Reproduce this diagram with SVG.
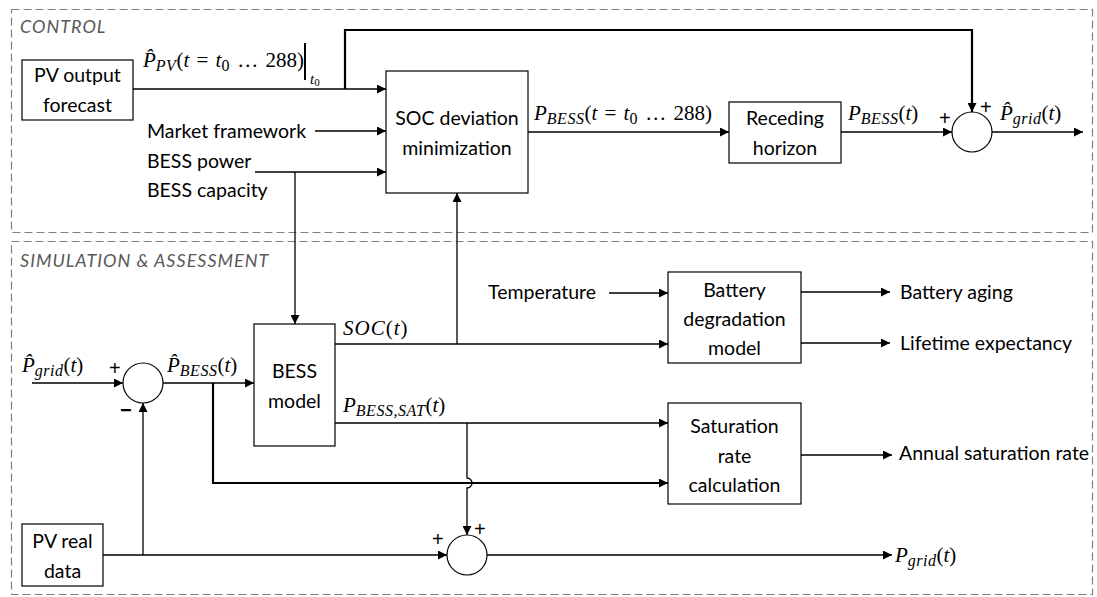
<svg xmlns="http://www.w3.org/2000/svg" width="1097" height="597" viewBox="0 0 1097 597">
<defs>
<marker id="ah" viewBox="0 0 10 10" refX="10" refY="5" markerWidth="10" markerHeight="9" markerUnits="userSpaceOnUse" orient="auto">
<path d="M0,0 L10,5 L0,10 z" fill="#000"/>
</marker>
<style>
.frame{fill:none;stroke:#808080;stroke-width:1.2;stroke-dasharray:8 4}
.ftitle{font-family:Lato,"Liberation Sans",sans-serif;font-size:18px;letter-spacing:1px;font-style:italic;fill:#595959}
.box{fill:#fff;stroke:#000;stroke-width:1.2}
.sum{fill:#fff;stroke:#000;stroke-width:1.2}
.t{font-family:Lato,"Liberation Sans",sans-serif;font-size:19.5px;fill:#000}
.c{text-anchor:middle}
.m{font-family:"Liberation Serif","DejaVu Serif",serif;font-size:21px;word-spacing:2px;fill:#000}
.i{font-style:italic}
.s{font-size:16px;letter-spacing:0.5px}
.sign{font-family:"Liberation Sans",sans-serif;font-size:20px;fill:#000}
.w{fill:none;stroke:#000;stroke-width:1.3}
.wt{fill:none;stroke:#000;stroke-width:2.2}
.a{marker-end:url(#ah)}
</style>
</defs>
<rect width="1097" height="597" fill="#fff"/>

<g id="frames">
<rect class="frame" x="11.5" y="9.5" width="1081" height="223"/>
<text class="ftitle" x="20" y="33">CONTROL</text>
<rect class="frame" x="11.5" y="241.5" width="1081" height="353"/>
<text class="ftitle" x="20" y="267">SIMULATION &amp; ASSESSMENT</text>
</g>

<g id="connectors">
<path class="w a" d="M133,89 H386"/>
<path class="wt a" d="M345,89 V30 H972 V112"/>
<path class="w a" d="M315,131 H386"/>
<path class="w a" d="M255,172 H386"/>
<path class="w a" d="M295,172 V324"/>
<path class="w a" d="M528,132 H729"/>
<path class="w a" d="M841,132 H952"/>
<path class="w a" d="M992,132 H1083"/>
<path class="w a" d="M32,383 H123"/>
<path class="w a" d="M163,383 H254"/>
<path class="wt a" d="M213,383 V483 H668"/>
<path class="w a" d="M335,344 H668"/>
<path class="w a" d="M457,344 V193"/>
<path class="w a" d="M609,293 H668"/>
<path class="w a" d="M801,292 H890"/>
<path class="w a" d="M801,343 H890"/>
<path class="w a" d="M335,423 H668"/>
<path class="w a" d="M467,423 V478 a5,5 0 0 1 0,10 V535"/>
<path class="w a" d="M801,455 H892"/>
<path class="w a" d="M103,555 H447"/>
<path class="w a" d="M143,555 V403"/>
<path class="w a" d="M487,555 H892"/>
</g>

<g id="pv-forecast">
<rect class="box" x="22" y="60" width="111" height="60"/>
<text class="t c" x="77.5" y="82">PV output</text>
<text class="t c" x="77.5" y="112">forecast</text>
</g>

<g id="forecast-label">
<text class="m" x="143" y="67"><tspan class="i">P&#x302;</tspan><tspan class="i s" dy="4">PV</tspan><tspan dy="-4">(</tspan><tspan class="i">t</tspan> = <tspan class="i">t</tspan><tspan class="s" dy="4">0</tspan><tspan dy="-4"> … 288)</tspan></text>
<line x1="305" y1="43" x2="305" y2="80" stroke="#000" stroke-width="2"/>
<text class="m" x="310" y="84"><tspan class="i" font-size="15px">t</tspan><tspan font-size="11px" dy="2">0</tspan></text>
</g>

<g id="control-inputs">
<text class="t" x="147" y="138">Market framework</text>
<text class="t" x="147" y="168">BESS power</text>
<text class="t" x="147" y="197">BESS capacity</text>
</g>

<g id="soc-min">
<rect class="box" x="386" y="71" width="142" height="122"/>
<text class="t c" x="457" y="125">SOC deviation</text>
<text class="t c" x="457" y="155">minimization</text>
</g>

<g id="pbess-label">
<text class="m" x="534" y="120"><tspan class="i">P</tspan><tspan class="i s" dy="4">BESS</tspan><tspan dy="-4">(</tspan><tspan class="i">t</tspan> = <tspan class="i">t</tspan><tspan class="s" dy="4">0</tspan><tspan dy="-4"> … 288)</tspan></text>
</g>

<g id="receding">
<rect class="box" x="729" y="102" width="112" height="61"/>
<text class="t c" x="785" y="125">Receding</text>
<text class="t c" x="785" y="155">horizon</text>
</g>

<g id="pbess-t-label">
<text class="m" x="848" y="120"><tspan class="i">P</tspan><tspan class="i s" dy="4">BESS</tspan><tspan dy="-4">(</tspan><tspan class="i">t</tspan>)</text>
</g>

<g id="sum-top">
<circle class="sum" cx="972" cy="132" r="20"/>
<text class="sign" x="939" y="125">+</text>
<text class="sign" x="980" y="114">+</text>
</g>

<g id="pgrid-hat-out">
<text class="m" x="1000" y="120"><tspan class="i">P&#x302;</tspan><tspan class="i s" dy="4">grid</tspan><tspan dy="-4">(</tspan><tspan class="i">t</tspan>)</text>
</g>

<g id="pgrid-hat-in">
<text class="m" x="22" y="372"><tspan class="i">P&#x302;</tspan><tspan class="i s" dy="4">grid</tspan><tspan dy="-4">(</tspan><tspan class="i">t</tspan>)</text>
</g>

<g id="sum-left">
<circle class="sum" cx="143" cy="383" r="20"/>
<text class="sign" x="109" y="375">+</text>
<text class="sign" x="120" y="417" font-weight="bold">−</text>
</g>

<g id="pbess-hat-label">
<text class="m" x="167" y="372"><tspan class="i">P&#x302;</tspan><tspan class="i s" dy="4">BESS</tspan><tspan dy="-4">(</tspan><tspan class="i">t</tspan>)</text>
</g>

<g id="bess-model">
<rect class="box" x="254" y="324" width="81" height="122"/>
<text class="t c" x="294.5" y="378">BESS</text>
<text class="t c" x="294.5" y="408">model</text>
</g>

<g id="soc-label">
<text class="m i" x="343" y="335" letter-spacing="1px">SOC<tspan font-style="normal">(</tspan>t<tspan font-style="normal">)</tspan></text>
</g>

<g id="pbess-sat-label">
<text class="m" x="343" y="412"><tspan class="i">P</tspan><tspan class="i s" dy="4">BESS,SAT</tspan><tspan dy="-4">(</tspan><tspan class="i">t</tspan>)</text>
</g>

<g id="temperature">
<text class="t" x="488" y="299">Temperature</text>
</g>

<g id="battery-deg">
<rect class="box" x="668" y="272" width="133" height="91"/>
<text class="t c" x="734.5" y="297">Battery</text>
<text class="t c" x="734.5" y="326">degradation</text>
<text class="t c" x="734.5" y="355">model</text>
</g>

<g id="deg-outputs">
<text class="t" x="900" y="299">Battery aging</text>
<text class="t" x="900" y="350">Lifetime expectancy</text>
</g>

<g id="saturation">
<rect class="box" x="668" y="403" width="133" height="101"/>
<text class="t c" x="734.5" y="433">Saturation</text>
<text class="t c" x="734.5" y="463">rate</text>
<text class="t c" x="734.5" y="492">calculation</text>
</g>

<g id="sat-output">
<text class="t" x="899" y="460">Annual saturation rate</text>
</g>

<g id="pv-real">
<rect class="box" x="22" y="524" width="81" height="62"/>
<text class="t c" x="62.5" y="548">PV real</text>
<text class="t c" x="62.5" y="578">data</text>
</g>

<g id="sum-bottom">
<circle class="sum" cx="467" cy="555" r="20"/>
<text class="sign" x="432" y="546">+</text>
<text class="sign" x="474" y="536">+</text>
</g>

<g id="pgrid-out">
<text class="m" x="895" y="562"><tspan class="i">P</tspan><tspan class="i s" dy="4">grid</tspan><tspan dy="-4">(</tspan><tspan class="i">t</tspan>)</text>
</g>
</svg>
